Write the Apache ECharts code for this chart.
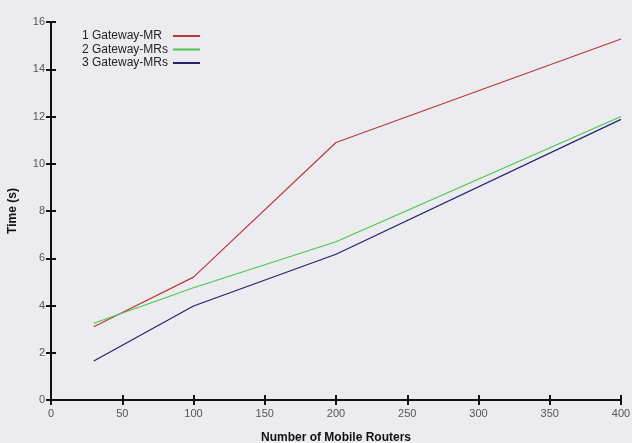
<!DOCTYPE html>
<html><head><meta charset="utf-8">
<script src="https://cdn.jsdelivr.net/npm/echarts@6/dist/echarts.min.js"></script>
<style>html,body{margin:0;padding:0;background:#ecebf0}#c{width:632px;height:443px}</style>
</head><body><div id="c"></div>
<script>
const xValues = [30, 100, 200, 400];
const seriesNames = ['1 Gateway-MR', '2 Gateway-MRs', '3 Gateway-MRs'];
const gw1 = [3.1, 5.2, 10.9, 15.28];
const gw2 = [3.25, 4.75, 6.7, 12.0];
const gw3 = [1.65, 3.98, 6.17, 11.88];
const colors = ['#b83a3a', '#4cc84c', '#22226e'];

const pairs = arr => xValues.map((x, i) => [x, arr[i]]);
const chart = echarts.init(document.getElementById('c'));
const axisCommon = {
  type: 'value',
  axisLine: {show: true, lineStyle: {color: '#111', width: 2}},
  axisTick: {show: true, inside: true, length: 5, lineStyle: {color: '#111', width: 2}},
  splitLine: {show: false}
};
chart.setOption({
  backgroundColor: '#ecebf0',
  animation: false,
  grid: {left: 51, right: 11, top: 22, bottom: 43, containLabel: false, outerBoundsMode: 'none'},
  legend: {
    orient: 'vertical', left: 77, top: 25, align: 'right', itemGap: 1.5,
    itemWidth: 27, itemHeight: 2, icon: 'rect',
    formatter: '{t|{name}}',
    textStyle: {fontFamily: 'Liberation Sans', fontSize: 12, color: '#222',
      rich: {t: {width: 86, align: 'left', fontFamily: 'Liberation Sans', fontSize: 12, color: '#222'}}},
    data: seriesNames
  },
  xAxis: [
    Object.assign({}, axisCommon, {
      min: 0, max: 400, interval: 50, position: 'bottom',
      axisLabel: {color: '#555', fontFamily: 'Liberation Sans', fontSize: 11, margin: 8},
      name: 'Number of Mobile Routers', nameLocation: 'middle', nameGap: 32,
      nameTextStyle: {fontFamily: 'Liberation Sans', fontWeight: 'bold', fontSize: 12, color: '#111'}
    }),
    Object.assign({}, axisCommon, {
      min: 0, max: 400, interval: 50, position: 'top', axisLabel: {show: false}
    })
  ],
  yAxis: [
    Object.assign({}, axisCommon, {
      min: 0, max: 16, interval: 2, position: 'left',
      axisLabel: {color: '#555', fontFamily: 'Liberation Sans', fontSize: 11, margin: 6},
      name: 'Time (s)', nameLocation: 'middle', nameGap: 32, nameRotate: 90,
      nameTextStyle: {fontFamily: 'Liberation Sans', fontWeight: 'bold', fontSize: 12, color: '#111'}
    }),
    Object.assign({}, axisCommon, {
      min: 0, max: 16, interval: 2, position: 'right', axisLabel: {show: false}
    })
  ],
  series: [gw1, gw2, gw3].map((arr, i) => ({
    name: seriesNames[i], type: 'line', data: pairs(arr),
    symbol: 'none', lineStyle: {color: colors[i], width: 1.2},
    itemStyle: {color: colors[i]}
  }))
});
</script></body></html>
